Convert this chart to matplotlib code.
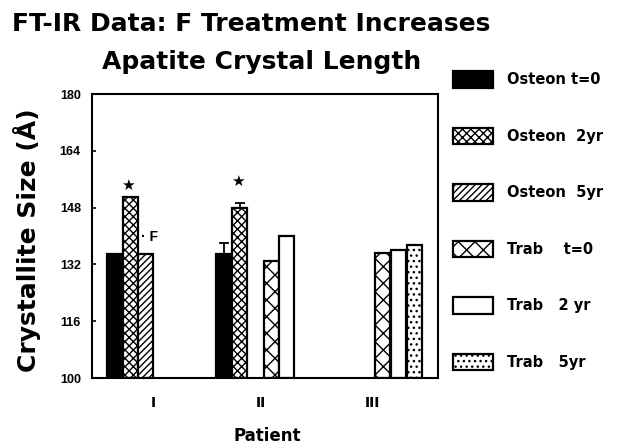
import numpy as np
import matplotlib.pyplot as plt

plt.rcParams['font.family'] = ['DejaVu Sans']
plt.rcParams['hatch.linewidth'] = 1.0

patients = ['I', 'II', 'III']
series = ['Osteon t=0', 'Osteon  2yr', 'Osteon  5yr', 'Trab    t=0', 'Trab   2 yr', 'Trab   5yr']
nan = np.nan
osteon_t0 = [135, 135, nan]
osteon_2yr = [151, 148, nan]
osteon_5yr = [135, nan, nan]
trab_t0 = [nan, 133, 135.3]
trab_2yr = [nan, 140, 136.2]
trab_5yr = [nan, nan, 137.4]
values = [osteon_t0, osteon_2yr, osteon_5yr, trab_t0, trab_2yr, trab_5yr]
# upper error (SD) shown for patient II only
err_osteon_t0 = [0, 3, 0]
err_osteon_2yr = [0, 1.2, 0]
errors = [err_osteon_t0, err_osteon_2yr, None, None, None, None]
# significance markers: (series index, patient index, text y)
stars = [(1, 0, 154.3), (1, 1, 155.4)]

colors = ['black', 'white', 'white', 'white', 'white', 'white']
hatches = [None, 'xxxx', '/////', 'xx', None, '...']

fig = plt.figure(figsize=(6.19, 4.44), dpi=100)
ax = fig.add_axes([0.1486, 0.1486, 0.559, 0.6396])

group_start = np.array([1.0, 8.3, 15.72])
slot = 1.05

handles = []
for i, (vals, name) in enumerate(zip(values, series)):
    vals = np.array(vals, dtype=float)
    keep = ~np.isnan(vals)
    x = group_start[keep] + i * slot
    b = ax.bar(x, vals[keep] - 100, bottom=100, width=1.0, align='edge',
               color=colors[i], hatch=hatches[i], edgecolor='black',
               linewidth=1.6, label=name, zorder=2)
    handles.append(b)
    if errors[i] is not None:
        err = np.array(errors[i], dtype=float)
        for xi, v, e in zip(group_start + i * slot + 0.5, vals, err):
            if e > 0 and not np.isnan(v):
                ax.errorbar(xi, v, yerr=[[0], [e]], fmt='none', ecolor='black',
                            elinewidth=1.3, capsize=3.5, capthick=1.3, zorder=3)

for si, pi, y in stars:
    ax.text(group_start[pi] + si * slot + 0.35, y, '\u2605', ha='center', va='center',
            fontsize=11)
ax.text(group_start[0] + 2 * slot + 0.15, 139.8, '\u00b7 F', ha='left', va='center',
        fontsize=10, fontweight='bold', family='Liberation Sans')

ax.set_xlim(0, 23.07)
ax.set_ylim(100, 180)
ax.set_yticks(np.arange(100, 181, 16))
ax.tick_params(axis='y', direction='in', length=3, width=1.2, labelsize=9, pad=8)
for lab in ax.get_yticklabels():
    lab.set_fontweight('bold')
    lab.set_family('Liberation Sans')
ax.set_xticks([4.07, 11.27, 18.73])
ax.set_xticklabels(patients, fontsize=10, fontweight='bold')
ax.tick_params(axis='x', length=0, pad=13)
for s in ax.spines.values():
    s.set_linewidth(1.5)

fig.text(267 / 619, 1 - 436 / 444, 'Patient', fontsize=12, fontweight='bold',
         ha='center', va='center')
fig.text(27 / 619, 1 - 240 / 444, 'Crystallite Size (Å)', fontsize=18,
         fontweight='bold', rotation=90, ha='center', va='center')

fig.text(12 / 619, 1 - 24 / 444, 'FT-IR Data: F Treatment Increases', fontsize=18,
         fontweight='bold', ha='left', va='center')
fig.text(262 / 619, 1 - 62 / 444, 'Apatite Crystal Length', fontsize=18,
         fontweight='bold', ha='center', va='center')

fig.legend(handles=handles, loc='upper left', bbox_to_anchor=(453 / 619, 1 - 71 / 444),
           frameon=False, handlelength=2.74, handleheight=1.4,
           labelspacing=2.72, handletextpad=0.95, borderpad=0, borderaxespad=0,
           prop={'weight': 'bold', 'size': 10.5})

fig.savefig('out.png', dpi=100)
